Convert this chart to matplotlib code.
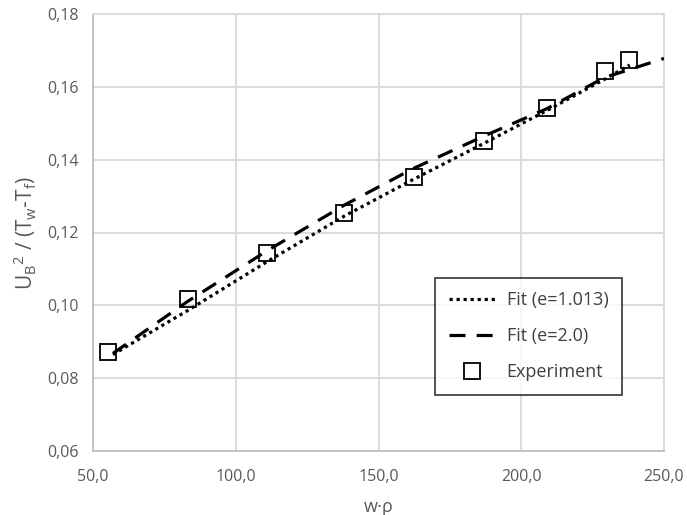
import matplotlib.pyplot as plt

plt.rcParams['font.family'] = ['Open Sans', 'DejaVu Sans']

# experiment
wrho_exp = [55.3, 83.3, 110.9, 137.9, 162.4, 187.0, 209.0, 229.3, 237.7]
u_exp = [0.0872, 0.1017, 0.1144, 0.1254, 0.1352, 0.1451, 0.1542, 0.1643, 0.1674]

# fit e=1.013 (dotted)
wrho_fit1 = [57, 83, 111, 138, 162, 187, 209, 229, 238]
u_fit1 = [0.0865, 0.0985, 0.1120, 0.1245, 0.1345, 0.1445, 0.1535, 0.1620, 0.1660]

# fit e=2.0 (dashed)
wrho_fit2 = [57, 83, 111, 138, 162, 187, 209, 229, 250]
u_fit2 = [0.0868, 0.1010, 0.1150, 0.1275, 0.1375, 0.1465, 0.1540, 0.1625, 0.1678]

xticks = [50, 100, 150, 200, 250]
xticklabels = ['50,0', '100,0', '150,0', '200,0', '250,0']
yticks = [0.06, 0.08, 0.10, 0.12, 0.14, 0.16, 0.18]
yticklabels = ['0,06', '0,08', '0,10', '0,12', '0,14', '0,16', '0,18']

fig = plt.figure(figsize=(6.87, 5.15), dpi=100)
ax = fig.add_axes([93/687, 1 - 451/515, (664-93)/687, (451-14)/515])

ax.plot(wrho_fit1, u_fit1, color='black', linestyle=(0, (1, 1.2)), linewidth=2.3,
        label='Fit (e=1.013)', zorder=3)
ax.plot(wrho_fit2, u_fit2, color='black', linestyle=(0, (5, 3.5)), linewidth=2.3,
        label='Fit (e=2.0)', zorder=3)
ax.plot(wrho_exp, u_exp, linestyle='none', marker='s', markersize=11,
        markerfacecolor='none', markeredgecolor='black', markeredgewidth=1.3,
        label='Experiment', zorder=4)

ax.set_xlim(50, 250)
ax.set_ylim(0.06, 0.18)
ax.set_xticks(xticks)
ax.set_xticklabels(xticklabels)
ax.set_yticks(yticks)
ax.set_yticklabels(yticklabels)
ax.tick_params(length=0, labelsize=11.5, labelcolor='#595959', pad=10)
ax.tick_params(axis='x', pad=13)

ax.grid(True, color='#d9d9d9', linewidth=1.3)
ax.set_axisbelow(True)
for s in ax.spines.values():
    s.set_color('#d9d9d9')
    s.set_linewidth(1.3)
ax.spines['left'].set_color('#bfbfbf')
ax.spines['bottom'].set_color('#bfbfbf')

ax.set_xlabel('w·ρ', fontsize=13, color='#595959', labelpad=9)
ax.set_ylabel(r'U$_\mathregular{B}$$^\mathregular{2}$ / (T$_\mathregular{w}$-T$_\mathregular{f}$)',
              fontsize=15, color='#595959', labelpad=6)

leg = ax.legend(loc='lower right', bbox_to_anchor=(622/687, 1 - 395/515),
                bbox_transform=fig.transFigure, fontsize=13, frameon=True,
                fancybox=False, edgecolor='black', handlelength=2.6,
                handletextpad=0.6, labelspacing=1.0, borderpad=0.75,
                borderaxespad=0)
leg.get_frame().set_linewidth(1.2)
for t in leg.get_texts():
    t.set_color('#404040')

fig.savefig('out.png', dpi=100)
